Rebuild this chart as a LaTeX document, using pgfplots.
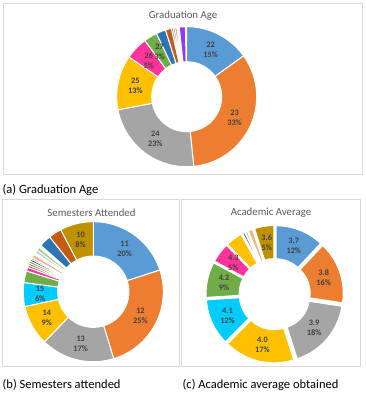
\documentclass[border=0pt]{standalone}
\usepackage{pgfplots}
\pgfplotsset{compat=1.18}
\usepackage{fontspec}
\setmainfont{Carlito}
\definecolor{cBlue}{HTML}{5B9BD5}
\definecolor{cOrange}{HTML}{ED7D31}
\definecolor{cGray}{HTML}{A5A5A5}
\definecolor{cGold}{HTML}{FFC000}
\definecolor{cPink}{HTML}{FF3399}
\definecolor{cGreen}{HTML}{70AD47}
\definecolor{cCyan}{HTML}{00CCFF}
\definecolor{cDBlue}{HTML}{2E75B6}
\definecolor{cBrown}{HTML}{C55A11}
\definecolor{cDRed}{HTML}{9E480E}
\definecolor{cDGray}{HTML}{636363}
\definecolor{cOlive}{HTML}{997300}
\definecolor{cNavy}{HTML}{264478}
\definecolor{cDGreen}{HTML}{43682B}
\definecolor{cLOrange}{HTML}{F4B183}
\definecolor{cLBlue}{HTML}{9DC3E6}
\definecolor{cLGreen}{HTML}{A9D18E}
\definecolor{cDGold}{HTML}{BF9000}
\definecolor{cPurple}{HTML}{9933FF}
\definecolor{cLab}{HTML}{404040}
\definecolor{cTitle}{HTML}{595959}
\definecolor{cFrame}{HTML}{D9D9D9}

% slice: colour, start %, end % (cumulative)
\newcommand\slice[3]{%
  \pgfmathsetmacro\lo{90-3.6*#3}\pgfmathsetmacro\hi{90-3.6*#2}%
  \pgfmathsetmacro\md{(\lo+\hi)/2}%
  \pgfmathsetmacro\ox{\ex*cos(\md)}\pgfmathsetmacro\oy{\ex*sin(\md)}%
  \pgfmathsetmacro\ix{\ri*cos(\hi)+\ox}\pgfmathsetmacro\iy{\ri*sin(\hi)+\oy}%
  \pgfmathsetmacro\rad{\ri*\R}%
  \edef\doit{\noexpand\addplot[fill=#1, draw=white, line width=\lw, domain=\lo:\hi, samples=30, variable=\noexpand\t] ({cos(\noexpand\t)+\ox},{sin(\noexpand\t)+\oy}) -- (axis cs:\ix,\iy) arc[start angle=\hi, end angle=\lo, radius=\rad pt] -- cycle;}\doit}
% label: start %, end %, text
\newcommand\lab[3]{%
  \pgfmathsetmacro\md{90-3.6*(#1+#2)/2}%
  \pgfmathsetmacro\lx{(\lr+\ex)*cos(\md)}\pgfmathsetmacro\ly{(\lr+\ex)*sin(\md)}%
  \edef\doit{\noexpand\node[lbl] at (axis cs:\lx,\ly)}\doit{#3};}

\tikzset{lbl/.style={align=center, text=cLab, font=\fontsize{8.3}{10}\selectfont\bfseries, inner sep=0pt}}
\pgfplotsset{donut/.style={anchor=center, xmin=-1.1, xmax=1.1, ymin=-1.1, ymax=1.1, hide axis, clip=false}}

\begin{document}
\begin{tikzpicture}[x=1pt,y=1pt]
\path[use as bounding box] (0,0) rectangle (365,-395);
\draw[cFrame, line width=0.75pt] (3.3,-3) rectangle (362.7,-174);
\draw[cFrame, line width=0.75pt] (2.7,-199) rectangle (179.3,-366.7);
\draw[cFrame, line width=0.75pt] (181.7,-199) rectangle (360.7,-366.7);
\node[text=cTitle, font=\fontsize{10.8}{12}\selectfont] at (183,-16) {Graduation Age};
\node[text=cTitle, font=\fontsize{10.8}{12}\selectfont] at (91.5,-212.5) {Semesters Attended};
\node[text=cTitle, font=\fontsize{10.8}{12}\selectfont] at (271,-212.5) {Academic Average};
\node[anchor=west, font=\fontsize{12.5}{14}\selectfont, inner sep=0pt] at (2.5,-190) {(a) Graduation Age};
\node[anchor=west, font=\fontsize{12.5}{14}\selectfont, inner sep=0pt] at (2.5,-385) {(b) Semesters attended};
\node[anchor=west, font=\fontsize{12.5}{14}\selectfont, inner sep=0pt] at (182.5,-385) {(c) Academic average obtained};

% (a) Graduation Age
\def\R{70}\def\ri{0.5}\def\ex{0}\def\lw{1pt}\def\lr{0.75}
\begin{axis}[donut, at={(186.7pt,-96.7pt)}, x=70pt, y=70pt]
\slice{cBlue}{0}{15.1}
\slice{cOrange}{15.1}{48.4}
\slice{cGray}{48.4}{72.0}
\slice{cGold}{72.0}{84.6}
\slice{cPink}{84.6}{89.8}
\slice{cGreen}{89.8}{92.9}
\slice{cDBlue}{92.9}{95.1}
\slice{cBrown}{95.1}{96.5}
\slice{cNavy}{96.5}{96.9}
\slice{cDGray}{96.9}{97.3}
\slice{cOlive}{97.3}{97.7}
\slice{cPurple}{98.3}{99.7}
\lab{0}{15.1}{22\\15\%}
\lab{15.1}{48.4}{23\\33\%}
\lab{48.4}{72.0}{24\\23\%}
\lab{72.0}{84.6}{25\\13\%}
\lab{84.6}{89.8}{26\\5\%}
\lab{89.8}{92.9}{27\\3\%}
\end{axis}

% (b) Semesters Attended
\def\R{70}\def\ri{0.51}\def\ex{0}\def\lw{1pt}\def\lr{0.76}
\begin{axis}[donut, at={(93.3pt,-291.7pt)}, x=70pt, y=70pt]
\slice{cBlue}{0}{20.0}
\slice{cOrange}{20.0}{45.3}
\slice{cGray}{45.3}{62.3}
\slice{cGold}{62.3}{71.6}
\slice{cCyan}{71.6}{77.1}
\slice{cGreen}{77.1}{79.8}
\slice{cPink}{79.8}{80.7}
\slice{cDRed}{80.7}{81.2}
\slice{cDGray}{81.2}{81.7}
\slice{cOlive}{81.7}{82.2}
\slice{cNavy}{82.2}{82.7}
\slice{cDGreen}{82.7}{83.1}
\slice{cLOrange}{83.1}{83.9}
\slice{cLBlue}{84.5}{85.1}
\slice{cLGreen}{85.1}{85.9}
\slice{cDBlue}{86.5}{89.3}
\slice{cBrown}{89.3}{92.3}
\slice{cDGold}{92.3}{100}
\lab{0}{20.0}{11\\20\%}
\lab{20.0}{45.3}{12\\25\%}
\lab{45.3}{62.3}{13\\17\%}
\lab{62.3}{71.6}{14\\9\%}
\lab{71.6}{77.1}{15\\6\%}
\lab{92.3}{100}{10\\8\%}
\end{axis}

% (c) Academic Average
\def\R{66}\def\ri{0.49}\def\ex{0.045}\def\lw{1.6pt}\def\lr{0.74}
\begin{axis}[donut, at={(274.7pt,-294.2pt)}, x=66pt, y=66pt]
\slice{cBlue}{0}{12.0}
\slice{cOrange}{12.0}{27.4}
\slice{cGray}{27.4}{45.1}
\slice{cGold}{45.1}{62.5}
\slice{cCyan}{62.5}{74.0}
\slice{cGreen}{74.0}{82.8}
\slice{cPink}{82.8}{87.8}
\slice{cGold}{87.8}{92.0}
\slice{cDGray}{92.2}{92.9}
\slice{cGray}{92.9}{93.5}
\slice{cLOrange}{93.6}{94.8}
\slice{cDGold}{95.1}{100}
\lab{0}{12.0}{3.7\\12\%}
\lab{12.0}{27.4}{3.8\\16\%}
\lab{27.4}{45.1}{3.9\\18\%}
\lab{45.1}{62.5}{4.0\\17\%}
\lab{62.5}{74.0}{4.1\\12\%}
\lab{74.0}{82.8}{4.2\\9\%}
\lab{82.8}{87.8}{4.3\\5\%}
\lab{95.1}{100}{3.6\\5\%}
\end{axis}
\end{tikzpicture}
\end{document}
